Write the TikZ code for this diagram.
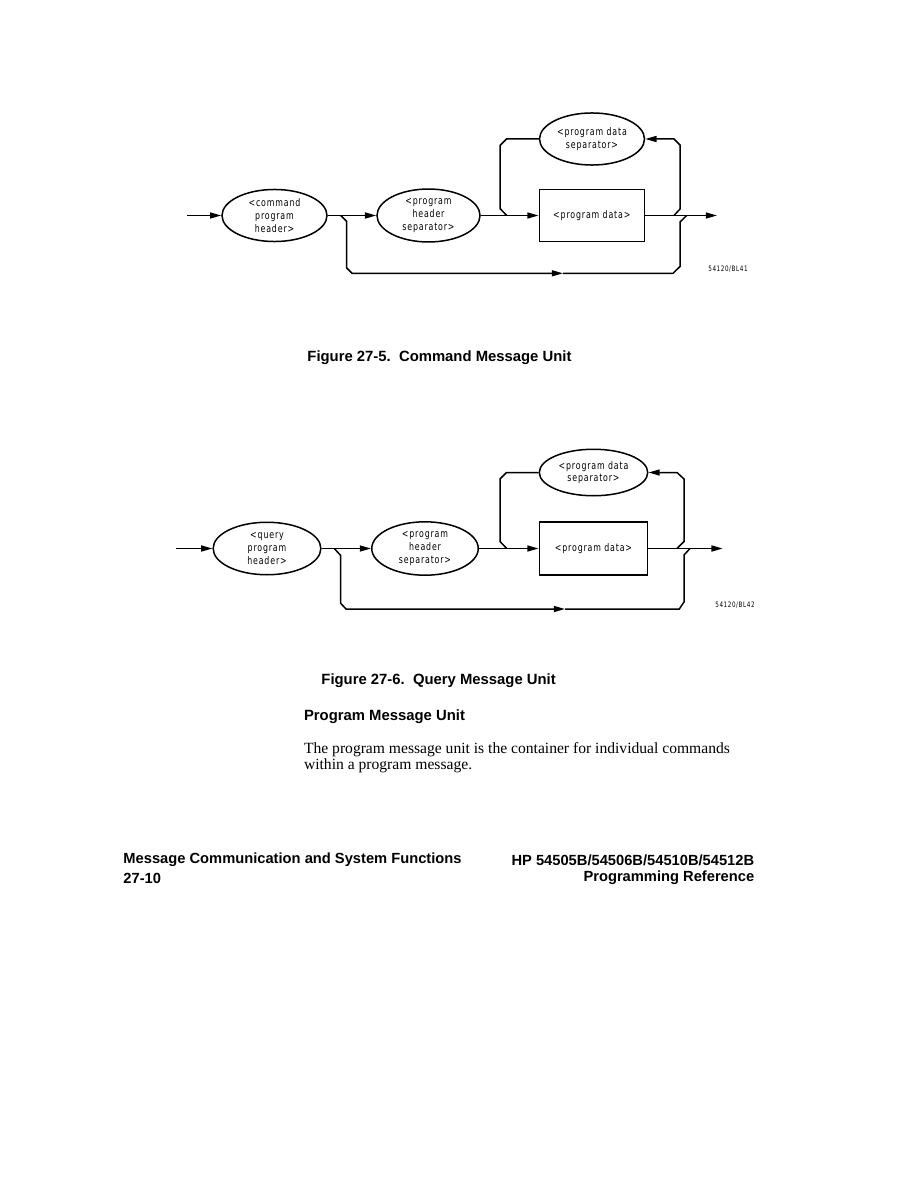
\documentclass[tikz,border=0pt]{standalone}
\usepackage{fontspec}
\setmainfont{Liberation Serif}
\setsansfont{Liberation Sans}
\newfontfamily\plotfont[FakeStretch=0.75,LetterSpace=8]{DejaVu Sans}
\usetikzlibrary{arrows.meta,shapes.geometric,positioning}

\begin{document}
\begin{tikzpicture}[x=0.6667pt,y=-0.6667pt,line width=1pt,
  flow/.style={-{Triangle[length=7.5pt,width=4pt]}},
  term/.style={ellipse,draw,inner sep=0pt,align=center,font=\plotfont\fontsize{7}{8.5}\selectfont},
  datbox/.style={rectangle,draw,inner sep=0pt,font=\plotfont\fontsize{7}{8.5}\selectfont},
  figid/.style={font=\plotfont\fontsize{5}{5}\selectfont},
  caption/.style={inner sep=0pt,font=\sffamily\bfseries\fontsize{9.9}{12}\selectfont},
  footer/.style={inner sep=0pt,font=\sffamily\bfseries\fontsize{9.8}{12}\selectfont},
  bodytext/.style={inner sep=0pt,font=\rmfamily\fontsize{10.4}{12}\selectfont}]
\useasboundingbox (0,0) rectangle (918,1188);

% Figure 27-5
\node[term, minimum width=70pt, minimum height=34.7pt] (cmdhdr) at (274.5,215.5) {<command\\program\\header>};
\node[term, minimum width=68.7pt, minimum height=35.3pt] (hdrsep1) at (428.5,215.5) {<program\\header\\separator>};
\node[datbox, minimum width=70pt, minimum height=35pt] (pdata1) at (591.8,215.5) {<program data>};
\node[term, minimum width=70pt, minimum height=34.7pt] (datsep1) at (592,139) {<program data\\separator>};
\node[figid] (id1) at (728,269) {54120/BL41};
\coordinate (in1) at (187,215.5);
\coordinate (out1) at (717,215.5);
\coordinate (skip1) at (340.7,215.5);
\coordinate (skipmid1) at (563,273.3);
\coordinate (join1) at (686.7,215.5);
\coordinate (loopl1) at (506.7,215.5);
\coordinate (loopr1) at (674,215.5);
\draw[flow] (in1) -- (cmdhdr.west);
\draw[flow] (cmdhdr.east) -- (hdrsep1.west);
\draw[flow] (hdrsep1.east) -- (pdata1.west);
\draw[flow] (pdata1.east) -- (out1);
\draw[flow] (skip1) -- (346.7,221.5) -- (346.7,268) -- (352,273.3) -- (skipmid1);
\draw (skipmid1) -- (673,273.3) -- (680,266.5) -- (680,222) -- (join1);
\draw (loopl1) -- (500,208.5) -- (500,145.5) -- (506.5,139) -- (datsep1.west);
\draw[flow] (loopr1) -- (680,209) -- (680,145) -- (674,139) -- (datsep1.east);
\node[caption, anchor=west] (cap1) at (306.7,357.3) {Figure 27-5.\ \ Command Message Unit};

% Figure 27-6
\node[term, minimum width=71.8pt, minimum height=35pt] (qryhdr) at (267,548.5) {<query\\program\\header>};
\node[term, minimum width=71pt, minimum height=35.6pt] (hdrsep2) at (425,548.5) {<program\\header\\separator>};
\node[datbox, minimum width=72.3pt, minimum height=35.5pt] (pdata2) at (593.5,548.5) {<program data>};
\node[term, minimum width=72.3pt, minimum height=31pt] (datsep2) at (593.5,472.5) {<program data\\separator>};
\node[figid] (id2) at (735,605) {54120/BL42};
\coordinate (in2) at (176,548.5);
\coordinate (out2) at (722.7,548.5);
\coordinate (skip2) at (334.3,548.5);
\coordinate (skipmid2) at (565,609);
\coordinate (join2) at (690,548.5);
\coordinate (loopl2) at (506.7,548.5);
\coordinate (loopr2) at (677,548.5);
\draw[flow] (in2) -- (qryhdr.west);
\draw[flow] (qryhdr.east) -- (hdrsep2.west);
\draw[flow] (hdrsep2.east) -- (pdata2.west);
\draw[flow] (pdata2.east) -- (out2);
\draw[flow] (skip2) -- (340.7,555.5) -- (340.7,603.3) -- (346,609) -- (skipmid2);
\draw (skipmid2) -- (679.3,609) -- (684,602) -- (684,555) -- (join2);
\draw (loopl2) -- (500,541.5) -- (500,479) -- (506.5,472.5) -- (datsep2.west);
\draw[flow] (loopr2) -- (684,541.5) -- (684,479) -- (677,472.5) -- (datsep2.east);
\node[caption, anchor=west] (cap2) at (320.7,680.7) {Figure 27-6.\ \ Query Message Unit};

% text below
\node[caption, anchor=west] (pmuhead) at (303.3,716.7) {Program Message Unit};
\node[bodytext, anchor=west] (body1) at (303.3,749.3) {The program message unit is the container for individual commands};
\node[bodytext, anchor=west] (body2) at (303.3,766) {within a program message.};
\node[footer, anchor=west] (footl1) at (122.7,860) {Message Communication and System Functions};
\node[footer, anchor=west] (footl2) at (122.7,878) {27-10};
\node[footer, anchor=east] (footr1) at (755,860) {HP 54505B/54506B/54510B/54512B};
\node[footer, anchor=east] (footr2) at (755,878) {Programming Reference};
\end{tikzpicture}
\end{document}
